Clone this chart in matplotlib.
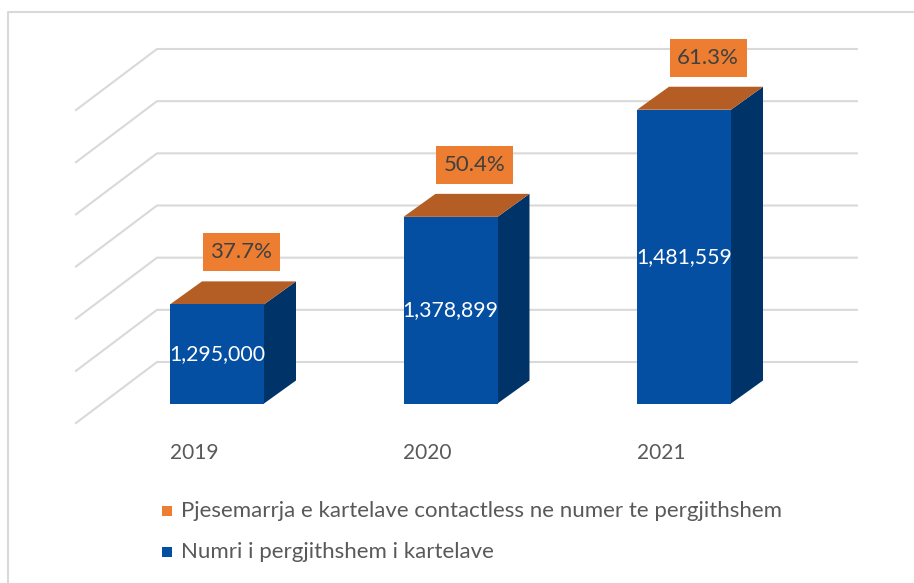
import matplotlib.pyplot as plt
from matplotlib.patches import Polygon, Rectangle
from matplotlib.lines import Line2D

years = ['2019', '2020', '2021']
total_cards = [1295000, 1378899, 1481559]
contactless_share = [37.7, 50.4, 61.3]
grid_values = [1200000, 1250000, 1300000, 1350000, 1400000, 1450000, 1500000]
series_names = ['Pjesemarrja e kartelave contactless ne numer te pergjithshem',
                'Numri i pergjithshem i kartelave']

W, H = 914, 583
X0, SX = 217, 233.5           # px of first category (front face centre), px per category
Y0, K = 403.5, 313 / 300000   # px of axis minimum, px per card
VMIN = grid_values[0]

BLUE, BLUE_SIDE = '#044FA2', '#003468'
ORANGE, ORANGE_TOP = '#ED7D31', '#B45D24'
GRID = '#D9D9D9'
TXT = '#595959'
plt.rcParams['font.family'] = ['Lato', 'DejaVu Sans']

fig = plt.figure(figsize=(W / 100, H / 100), dpi=100)
ax = fig.add_axes([0, 0, 1, 1])
ax.set_xlim(-X0 / SX, (W - X0) / SX)
ax.set_ylim(VMIN - (H - Y0) / K, VMIN + Y0 / K)
ax.axis('off')


def dx(px):
    return px / SX


def dy(px):
    return px / K


# walls: back gridlines + left diagonals
left, right = -0.4925, 2.505
for g in grid_values:
    bx, by = left + dx(55), g + dy(41.5)
    ax.plot([left - dx(26), bx, right + dx(55)], [g - dy(19.5), by, by],
            color=GRID, lw=1.5, zorder=1, solid_joinstyle='miter')

# 3d bars
w = 94 / SX
ddx, ddy = dx(32), dy(23)
for i, v in enumerate(total_cards):
    l, r = i - w / 2, i + w / 2
    ax.add_patch(Polygon([(r, VMIN), (r, v), (r + ddx, v + ddy), (r + ddx, VMIN + ddy)],
                         closed=True, fc=BLUE_SIDE, ec='none', zorder=3))
    ax.add_patch(Polygon([(l, v), (r, v), (r + ddx, v + ddy), (l + ddx, v + ddy)],
                         closed=True, fc=ORANGE_TOP, ec='none', zorder=3))
    ax.add_patch(Rectangle((l, VMIN), w, v - VMIN, fc=BLUE, ec='none', zorder=4))
    ax.text(i, (VMIN + v) / 2, f'{v:,}', color='white', fontsize=15.3,
            ha='center', va='center', zorder=6)

    # percentage label box
    cx, cy = i + dx(24), v + dy(52)
    bw, bh = dx(77), dy(38)
    ax.add_patch(Rectangle((cx - bw / 2, cy - bh / 2), bw, bh, fc=ORANGE, ec='none', zorder=5))
    ax.text(cx, cy, f'{contactless_share[i]:.1f}%', color='#404040', fontsize=16,
            ha='center', va='center', zorder=6)

    ax.text(i - dx(23), VMIN - dy(49.5), years[i], color=TXT, fontsize=15,
            ha='center', va='center')

# legend
for name, col, py in zip(series_names, [ORANGE, BLUE], [511, 552]):
    fig.add_artist(Rectangle((162 / W, 1 - (py + 5) / H), 10 / W, 10 / H,
                             transform=fig.transFigure, fc=col, ec='none'))
    fig.text(181 / W, 1 - py / H, name, color=TXT, fontsize=16, va='center', ha='left')

# chart border (top and left edges visible)
fig.add_artist(Line2D([8 / W, 8 / W, 1], [0, 1 - 12 / H, 1 - 12 / H],
                      transform=fig.transFigure, color=GRID, lw=1.5))

fig.savefig('out.png', dpi=100, facecolor='white')
